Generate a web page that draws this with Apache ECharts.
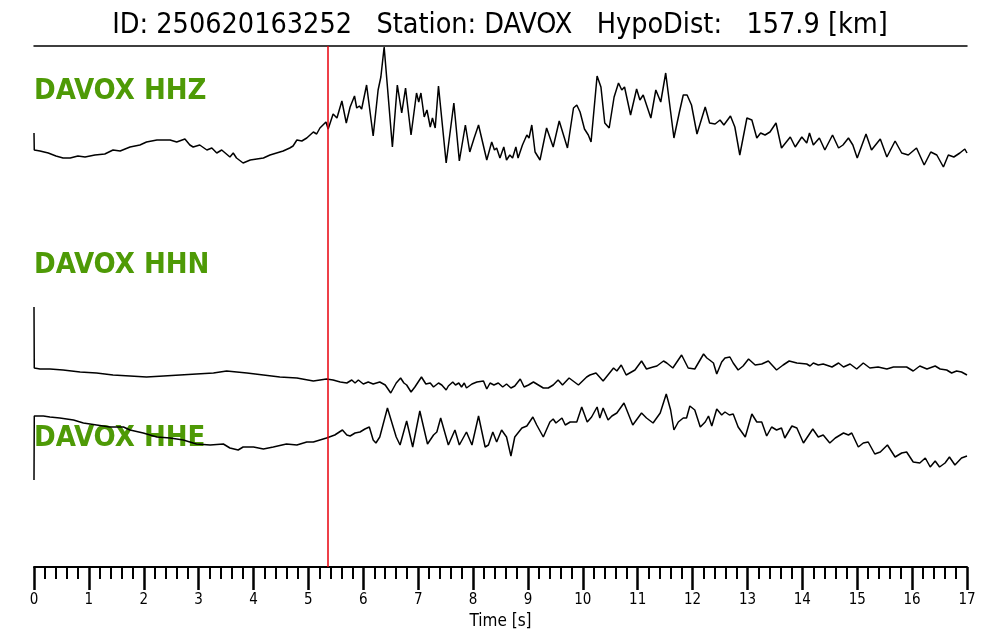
<!DOCTYPE html>
<html>
<head>
<meta charset="utf-8">
<script src="https://cdn.jsdelivr.net/npm/echarts@6/dist/echarts.min.js"></script>
<style>html,body{margin:0;padding:0;background:#fff}#c{width:1000px;height:640px}</style>
</head>
<body>
<div id="c"></div>
<script>
var titleText = 'ID: 250620163252   Station: DAVOX   HypoDist:   157.9 [km]';
var traceNames = ['DAVOX HHZ', 'DAVOX HHN', 'DAVOX HHE'];
var pickTime = 5.35;
var timeMin = 0, timeMax = 17;

var hhzTime = [0,0.005,0.11,0.26,0.40,0.53,0.66,0.80,0.93,1.11,1.29,1.44,1.57,1.75,1.93,2.05,2.24,2.48,2.60,2.75,2.84,2.90,3.02,3.15,3.24,3.33,3.42,3.57,3.63,3.69,3.81,3.94,4.06,4.18,4.30,4.42,4.54,4.66,4.72,4.79,4.88,4.97,5.09,5.15,5.21,5.32,5.36,5.45,5.52,5.61,5.69,5.76,5.84,5.88,5.93,5.97,6.06,6.18,6.27,6.32,6.38,6.53,6.62,6.70,6.77,6.87,6.97,7.01,7.05,7.11,7.16,7.22,7.26,7.31,7.37,7.51,7.65,7.75,7.86,7.94,8.02,8.10,8.25,8.34,8.39,8.43,8.49,8.56,8.61,8.67,8.72,8.78,8.82,8.90,8.93,8.98,9.02,9.07,9.13,9.22,9.34,9.46,9.57,9.72,9.83,9.89,9.95,10.03,10.10,10.15,10.26,10.33,10.40,10.48,10.57,10.65,10.71,10.76,10.87,10.98,11.04,11.10,11.24,11.33,11.42,11.51,11.66,11.76,11.83,11.90,11.98,12.08,12.23,12.31,12.41,12.50,12.57,12.69,12.77,12.86,12.99,13.08,13.17,13.24,13.32,13.41,13.52,13.62,13.78,13.87,13.99,14.08,14.13,14.20,14.31,14.41,14.55,14.66,14.74,14.84,14.92,15.00,15.16,15.26,15.42,15.54,15.69,15.81,15.93,16.08,16.22,16.34,16.45,16.57,16.66,16.76,16.87,16.96,17.00];
var hhzAmp = [17,0,-1,-3,-6,-8,-8,-6,-7,-5,-4,0,-1,3,5,8,10,10,8,11,5,3,5,0,2,-3,0,-7,-3,-8,-13,-10,-9,-8,-5,-3,-1,2,4,10,9,12,18,16,22,28,21,36,32,49,27,43,54,42,44,41,65,14,60,73,103,3,65,37,62,15,57,48,57,33,40,23,32,22,64,-13,47,-11,25,-2,12,25,-10,8,0,2,-8,3,-10,-5,-8,3,-8,5,4,15,12,25,-2,-10,22,3,29,2,42,45,38,21,15,8,74,63,27,22,53,67,60,63,35,61,50,55,32,60,48,77,12,38,55,55,45,16,43,27,26,30,25,34,23,-5,32,30,12,17,15,18,27,2,13,3,13,7,17,5,12,0,15,2,5,12,5,-8,16,0,11,-7,9,-3,-5,2,-15,-2,-5,-17,-5,-7,-3,1,-3];

var hhnTime = [0,0.005,0.11,0.29,0.53,0.84,1.14,1.44,1.75,2.05,2.36,2.66,2.96,3.27,3.51,3.88,4.18,4.48,4.79,5.09,5.33,5.45,5.58,5.70,5.79,5.85,5.91,6.00,6.09,6.18,6.30,6.40,6.50,6.60,6.68,6.74,6.79,6.87,6.94,7.06,7.14,7.22,7.28,7.37,7.43,7.51,7.55,7.63,7.68,7.74,7.79,7.84,7.88,7.98,8.07,8.19,8.25,8.31,8.38,8.46,8.54,8.61,8.69,8.76,8.86,8.93,9.01,9.10,9.19,9.28,9.37,9.46,9.55,9.63,9.75,9.92,10.07,10.13,10.24,10.37,10.56,10.62,10.70,10.79,10.95,11.07,11.16,11.28,11.35,11.47,11.53,11.56,11.64,11.80,11.92,12.04,12.20,12.26,12.31,12.38,12.44,12.53,12.59,12.68,12.74,12.83,12.92,13.02,13.14,13.26,13.38,13.53,13.65,13.76,13.90,14.08,14.14,14.20,14.29,14.38,14.54,14.66,14.75,14.87,14.99,15.11,15.23,15.38,15.54,15.66,15.78,15.90,16.02,16.14,16.27,16.42,16.51,16.63,16.72,16.81,16.90,17.00];
var hhnAmp = [63,2,1,1,0,-2,-3,-5,-6,-7,-6,-5,-4,-3,-1,-3,-5,-7,-8,-11,-9,-10,-12,-13,-10,-13,-10,-14,-12,-14,-12,-15,-23,-13,-8,-13,-15,-22,-17,-7,-14,-13,-17,-13,-15,-20,-16,-12,-15,-13,-17,-13,-18,-14,-12,-11,-19,-13,-15,-13,-17,-14,-18,-16,-9,-17,-15,-12,-15,-18,-18,-15,-10,-15,-8,-15,-7,-5,-3,-11,2,-1,5,-5,0,9,1,3,4,9,7,9,2,15,2,1,16,12,10,7,-4,8,12,13,7,0,4,11,5,6,9,0,5,9,7,6,4,7,5,6,3,7,3,6,1,7,2,3,1,3,3,3,-1,4,1,4,1,0,-3,-1,-2,-5];

var hheTime = [0,0.005,0.17,0.29,0.47,0.72,0.90,1.14,1.38,1.63,1.75,1.99,2.24,2.48,2.72,2.96,3.21,3.45,3.57,3.72,3.81,4.00,4.18,4.36,4.60,4.79,4.97,5.09,5.21,5.33,5.48,5.62,5.70,5.76,5.85,5.94,6.03,6.11,6.18,6.23,6.30,6.44,6.55,6.60,6.67,6.79,6.90,7.03,7.17,7.28,7.34,7.41,7.55,7.67,7.75,7.88,7.98,8.10,8.22,8.28,8.36,8.43,8.52,8.61,8.69,8.76,8.89,8.98,9.09,9.16,9.28,9.40,9.46,9.51,9.62,9.68,9.77,9.89,9.98,10.08,10.16,10.26,10.31,10.37,10.46,10.53,10.62,10.75,10.91,11.07,11.16,11.28,11.41,11.52,11.60,11.66,11.74,11.83,11.89,11.95,12.04,12.14,12.23,12.29,12.35,12.44,12.53,12.59,12.67,12.74,12.83,12.96,13.08,13.17,13.26,13.35,13.44,13.53,13.62,13.68,13.81,13.90,14.02,14.19,14.29,14.38,14.50,14.60,14.75,14.84,14.90,15.02,15.11,15.20,15.32,15.42,15.55,15.69,15.81,15.90,16.02,16.14,16.24,16.33,16.42,16.50,16.60,16.68,16.78,16.90,17.00];
var hheAmp = [-40,24,24,23,22,20,17,15,13,13,10,7,3,2,0,-4,-5,-4,-8,-10,-7,-7,-9,-7,-4,-5,-2,-2,0,2,5,10,5,4,7,8,11,13,0,-3,3,32,12,3,-5,19,-7,29,-4,5,8,22,-5,10,-5,8,-5,24,-7,-5,8,-2,10,3,-16,3,12,14,23,15,3,18,21,17,22,15,18,18,33,18,23,33,22,32,20,24,27,37,15,27,22,17,27,46,30,10,18,22,22,34,30,13,18,24,14,31,25,28,25,26,13,3,26,18,18,4,13,10,12,2,14,12,-3,11,3,5,-3,2,7,5,7,-7,-3,-2,-14,-12,-5,-17,-13,-12,-22,-23,-18,-27,-21,-27,-23,-17,-25,-18,-16];

function pairs(t, a) {
  var out = [];
  for (var i = 0; i < t.length; i++) out.push([t[i], a[i]]);
  return out;
}

var condensed = "'DejaVu Sans Condensed', 'DejaVu Sans', sans-serif";
var green = '#4e9a06';

var chart = echarts.init(document.getElementById('c'), null, {renderer: 'canvas'});
var lineStyle = {color: '#000', width: 1.5};

chart.setOption({
  animation: false,
  backgroundColor: '#fff',
  title: {
    text: titleText,
    left: 'center',
    top: 6,
    textStyle: {fontFamily: condensed, fontSize: 28.5, fontWeight: 'normal', color: '#000'}
  },
  grid: {left: 34, right: 33, top: 46, bottom: 73},
  xAxis: [
    {
      type: 'value', min: timeMin, max: timeMax, interval: 1, position: 'bottom',
      name: 'Time [s]', nameLocation: 'middle', nameGap: 40,
      nameTextStyle: {fontFamily: condensed, fontSize: 17, color: '#000'},
      axisLine: {show: true, onZero: false, lineStyle: {color: '#000', width: 2}},
      axisTick: {show: true, length: 23, lineStyle: {color: '#000', width: 2.5}},
      minorTick: {show: true, splitNumber: 5, length: 12, lineStyle: {color: '#000', width: 2}},
      axisLabel: {margin: 26, fontFamily: condensed, fontSize: 15, color: '#000', showMinLabel: true, showMaxLabel: true},
      splitLine: {show: false}
    },
    {
      type: 'value', min: timeMin, max: timeMax, position: 'top',
      axisLine: {show: true, onZero: false, lineStyle: {color: '#000', width: 1.5}},
      axisTick: {show: false}, axisLabel: {show: false}, splitLine: {show: false}
    }
  ],
  yAxis: [
    {type: 'value', min: -417, max: 104, show: false, splitLine: {show: false}},
    {type: 'value', min: -197, max: 324, show: false, splitLine: {show: false}},
    {type: 'value', min: -127, max: 394, show: false, splitLine: {show: false}}
  ],
  graphic: [
    {type: 'text', left: 34, top: 77, z: 0, style: {text: traceNames[0], fill: green, font: 'bold 29px ' + condensed}},
    {type: 'text', left: 34, top: 251, z: 0, style: {text: traceNames[1], fill: green, font: 'bold 29px ' + condensed}},
    {type: 'text', left: 34, top: 424, z: 0, style: {text: traceNames[2], fill: green, font: 'bold 29px ' + condensed}}
  ],
  series: [
    {
      name: traceNames[0], type: 'line', xAxisIndex: 0, yAxisIndex: 0, data: pairs(hhzTime, hhzAmp),
      symbol: 'none', lineStyle: lineStyle, z: 3,
      markLine: {
        silent: true, symbol: ['none', 'none'], label: {show: false},
        lineStyle: {color: '#e8000b', width: 1.5, type: 'solid'},
        data: [{xAxis: pickTime}]
      }
    },
    {name: traceNames[1], type: 'line', xAxisIndex: 0, yAxisIndex: 1, data: pairs(hhnTime, hhnAmp), symbol: 'none', lineStyle: lineStyle, z: 3},
    {name: traceNames[2], type: 'line', xAxisIndex: 0, yAxisIndex: 2, data: pairs(hheTime, hheAmp), symbol: 'none', lineStyle: lineStyle, z: 3}
  ]
});
</script>
</body>
</html>
